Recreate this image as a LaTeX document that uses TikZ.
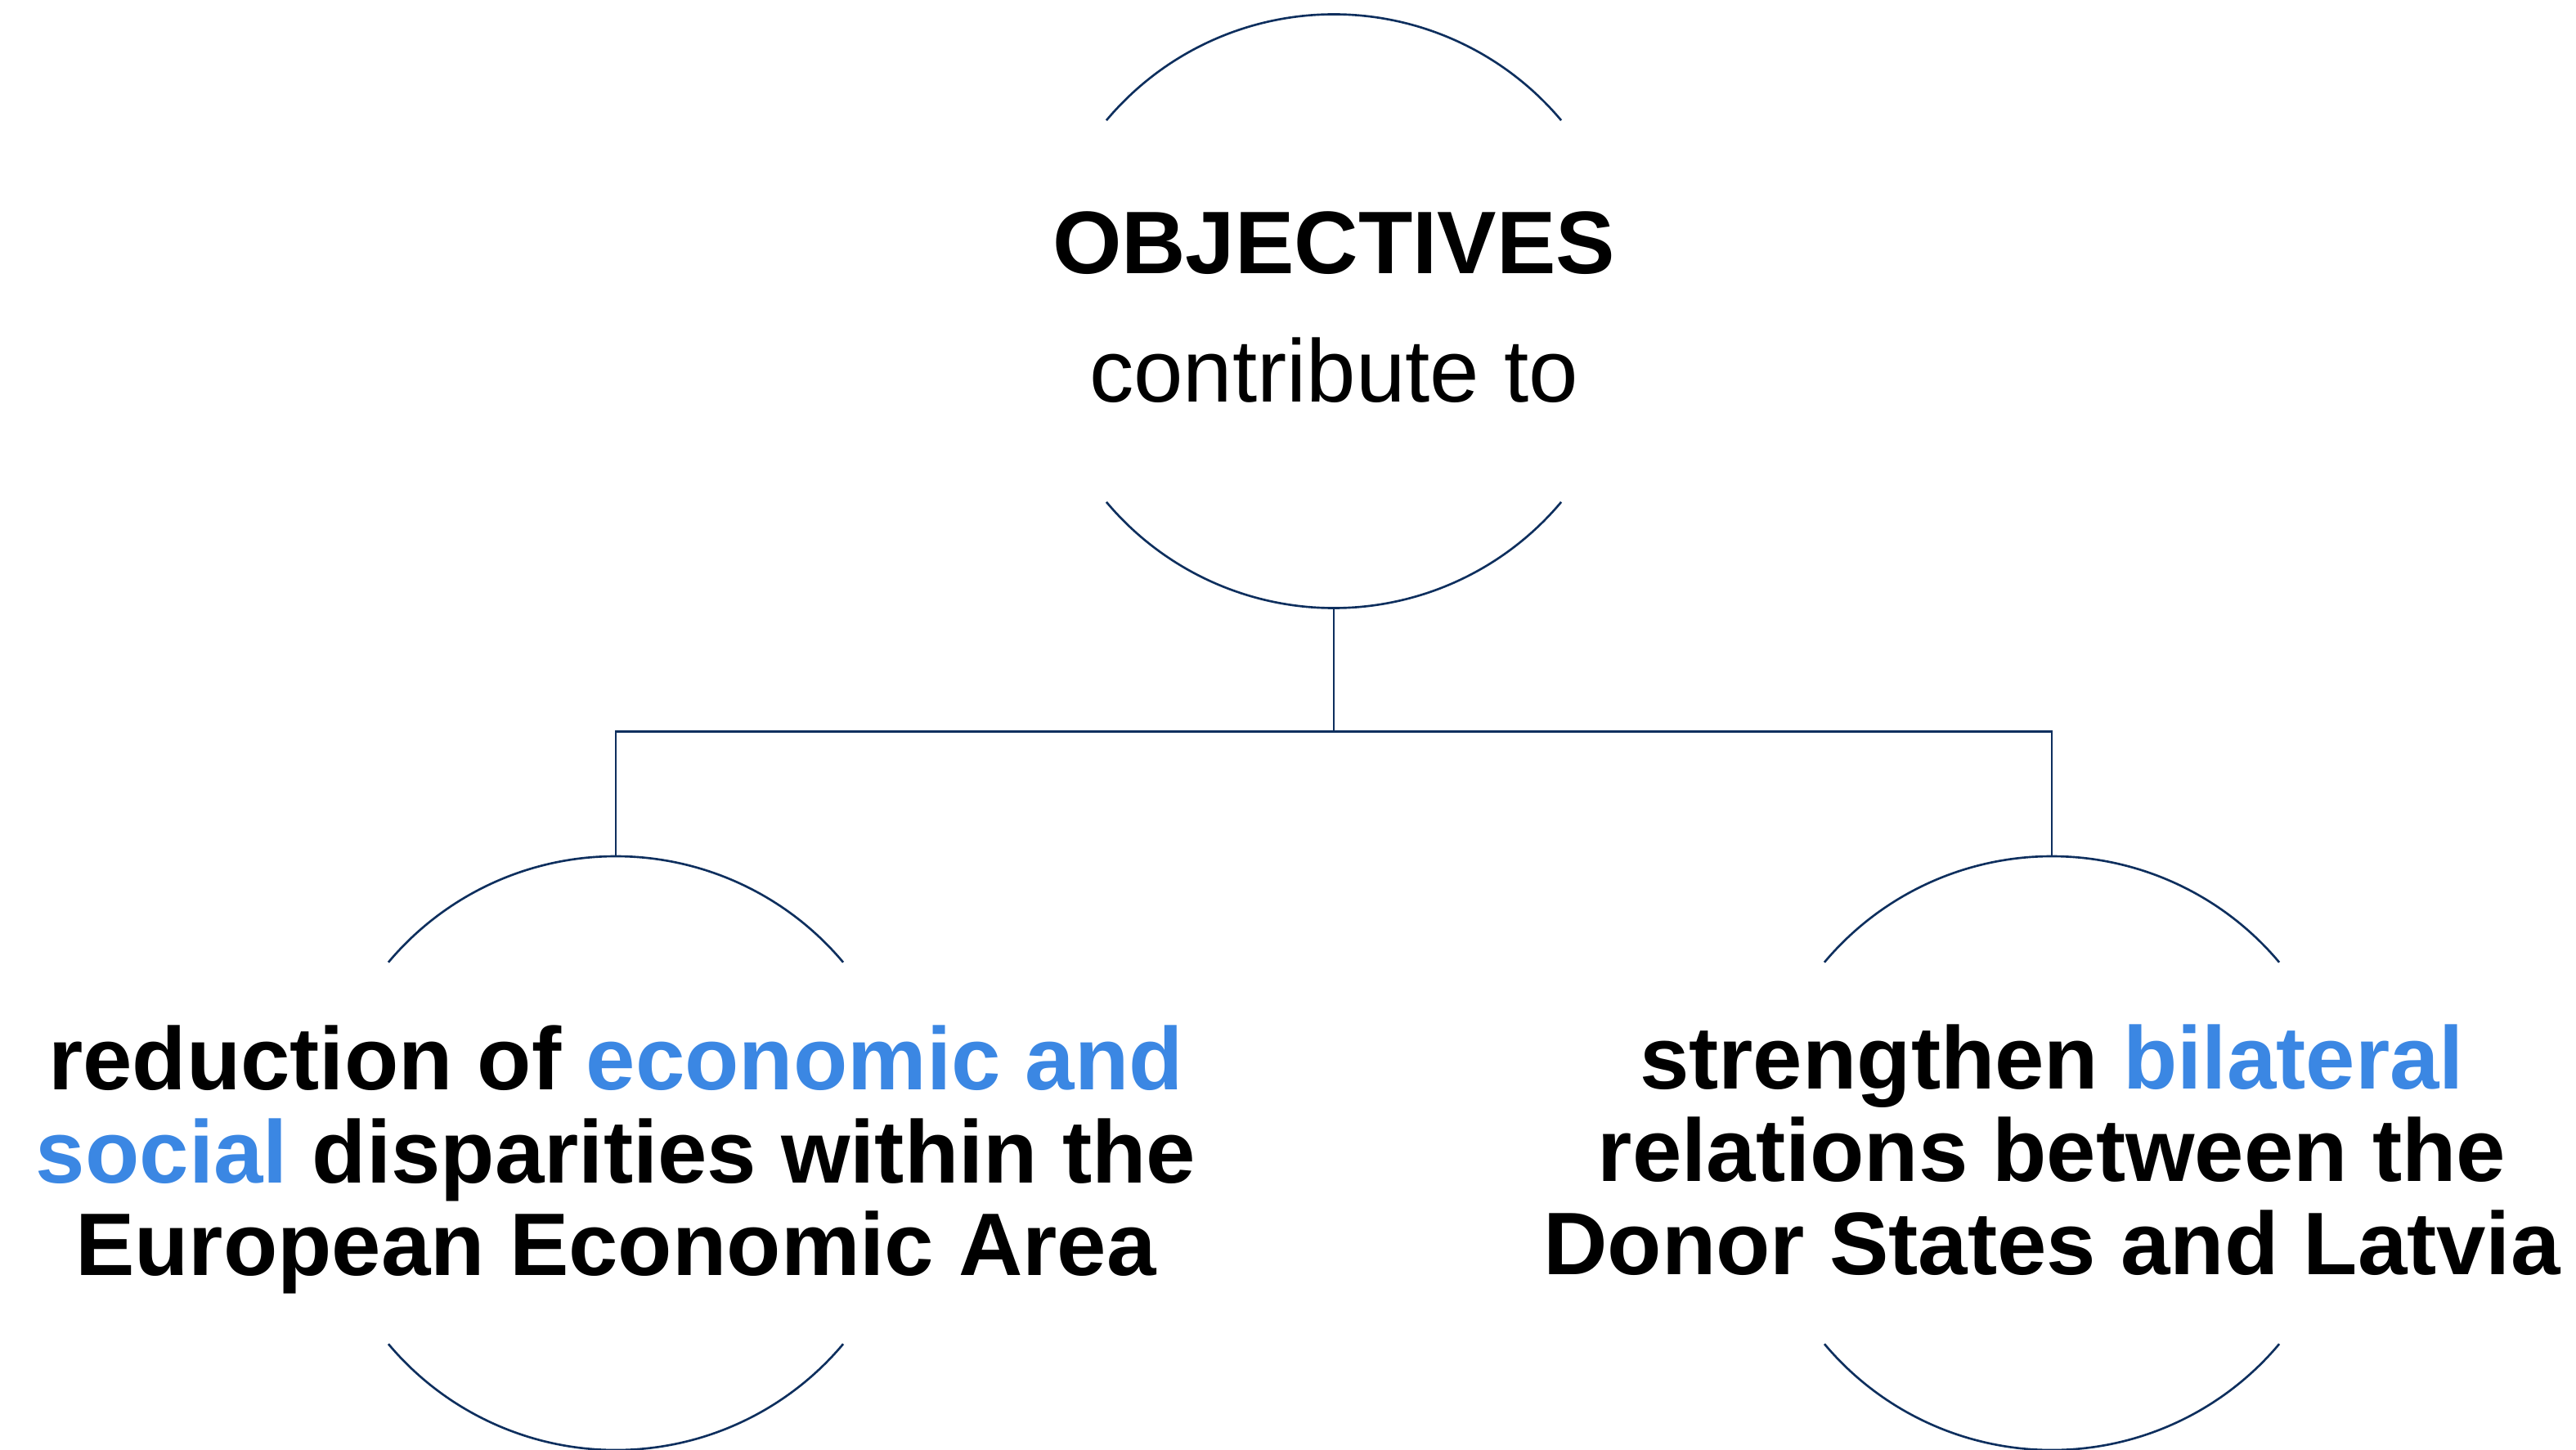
\documentclass[tikz,border=0pt]{standalone}
\usepackage{xcolor}
\usepackage{fontspec}
\setmainfont{Liberation Sans}
\usepackage{tikz}
\usetikzlibrary{positioning}

\definecolor{rimcol}{RGB}{14,47,94}
\definecolor{hiblue}{RGB}{59,135,227}

\begin{document}
\begin{tikzpicture}[node distance=3cm, on grid,
                    lobe/.style={circle, minimum size=7.26cm, inner sep=0pt, outer sep=0pt},
                    rim/.style={draw=rimcol, line width=0.75pt},
                    every node/.style={font=\fontsize{30.9}{32.2}\selectfont, align=center}]
    %\draw[help lines] (0,-18) grid (32,0);
   \useasboundingbox (0,0) rectangle (31.5,-17.73);

   \node[lobe] (obj) at (16.31,-3.805) {};
   \node[lobe] (red) [below left=10.295cm and 8.78cm of obj] {};
   \node[lobe] (bil) [below right=10.295cm and 8.78cm of obj] {};

   \node (obj_txt) at ([yshift=0.05cm]obj.center) {\textbf{OBJECTIVES}\\[12.5pt] contribute to};
   \node (red_txt) at ([yshift=-0.08cm]red.center) {\bfseries reduction of \textcolor{hiblue}{economic and}\\
      \bfseries\textcolor{hiblue}{social} disparities within the\\
      \bfseries European Economic Area};
   \node (bil_txt) at ([yshift=0.04cm]bil.center) {\bfseries strengthen \textcolor{hiblue}{bilateral}\\
      \bfseries relations between the\\
      \bfseries Donor States and Latvia};

   % open circles
   \draw[rim] (obj.40)  arc[start angle=40,  end angle=140, radius=3.63cm];
   \draw[rim] (obj.220) arc[start angle=220, end angle=320, radius=3.63cm];
   \draw[rim] (red.40)  arc[start angle=40,  end angle=140, radius=3.63cm];
   \draw[rim] (red.220) arc[start angle=220, end angle=320, radius=3.63cm];
   \draw[rim] (bil.40)  arc[start angle=40,  end angle=140, radius=3.63cm];
   \draw[rim] (bil.220) arc[start angle=220, end angle=320, radius=3.63cm];

   % Define connections
   \coordinate (split) at ([yshift=-1.51cm]obj.south);
   \draw[rim] (obj.south) -- (split);
   \draw[rim] (red.north) |- (split) -| (bil.north);
    
\end{tikzpicture}
\end{document}
